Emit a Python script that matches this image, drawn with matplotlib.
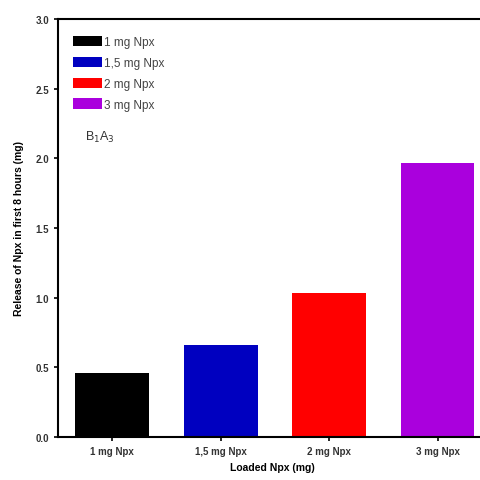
import matplotlib
matplotlib.use('Agg')
import matplotlib.pyplot as plt
from matplotlib.patches import Patch

categories = ['1 mg Npx', '1,5 mg Npx', '2 mg Npx', '3 mg Npx']
release = [0.46, 0.66, 1.03, 1.97]
colors = ['#000000', '#0000c0', '#ff0000', '#aa00dd']
yticks = [0.0, 0.5, 1.0, 1.5, 2.0, 2.5, 3.0]

plt.rcParams['font.family'] = 'Liberation Sans'

fig = plt.figure(figsize=(4.81, 4.81), dpi=100)
ax = fig.add_axes([58/481, 43/481, 1 - 58/481 + 0.01, 418/481])

x = range(len(categories))
ax.bar(x, release, width=0.68, color=colors, edgecolor='none')

ax.set_xlim(-0.5, 3.445)
ax.set_ylim(0, 3.0)
ax.set_yticks(yticks)
ax.set_yticklabels(['%.1f' % v for v in yticks], fontsize=7, fontweight='bold', color='#333333')
ax.set_xticks(list(x))
ax.set_xticklabels(categories, fontsize=7, fontweight='bold', color='#333333')
ax.tick_params(axis='both', direction='out', length=3, width=1.2)

for side in ['left', 'bottom', 'top']:
    ax.spines[side].set_linewidth(1.5)
ax.spines['right'].set_visible(False)

ax.set_ylabel('Release of Npx in first 8 hours (mg)', fontsize=7.5, fontweight='bold', labelpad=8)
ax.set_xlabel('Loaded Npx (mg)', fontsize=7.5, fontweight='bold', labelpad=4)

handles = [Patch(facecolor=c, edgecolor='none') for c in colors]
ax.legend(handles, categories, loc='upper left', bbox_to_anchor=(0.01, 0.985),
          frameon=False, fontsize=8.5, handlelength=2.5, handleheight=1.0,
          handletextpad=0.15, labelspacing=0.72, labelcolor='#444444',
          borderaxespad=0.5)

ax.text(0.063, 0.71, r'B$_1$A$_3$', transform=ax.transAxes, fontsize=9, color='#333333')

fig.savefig('out.png', dpi=100)
